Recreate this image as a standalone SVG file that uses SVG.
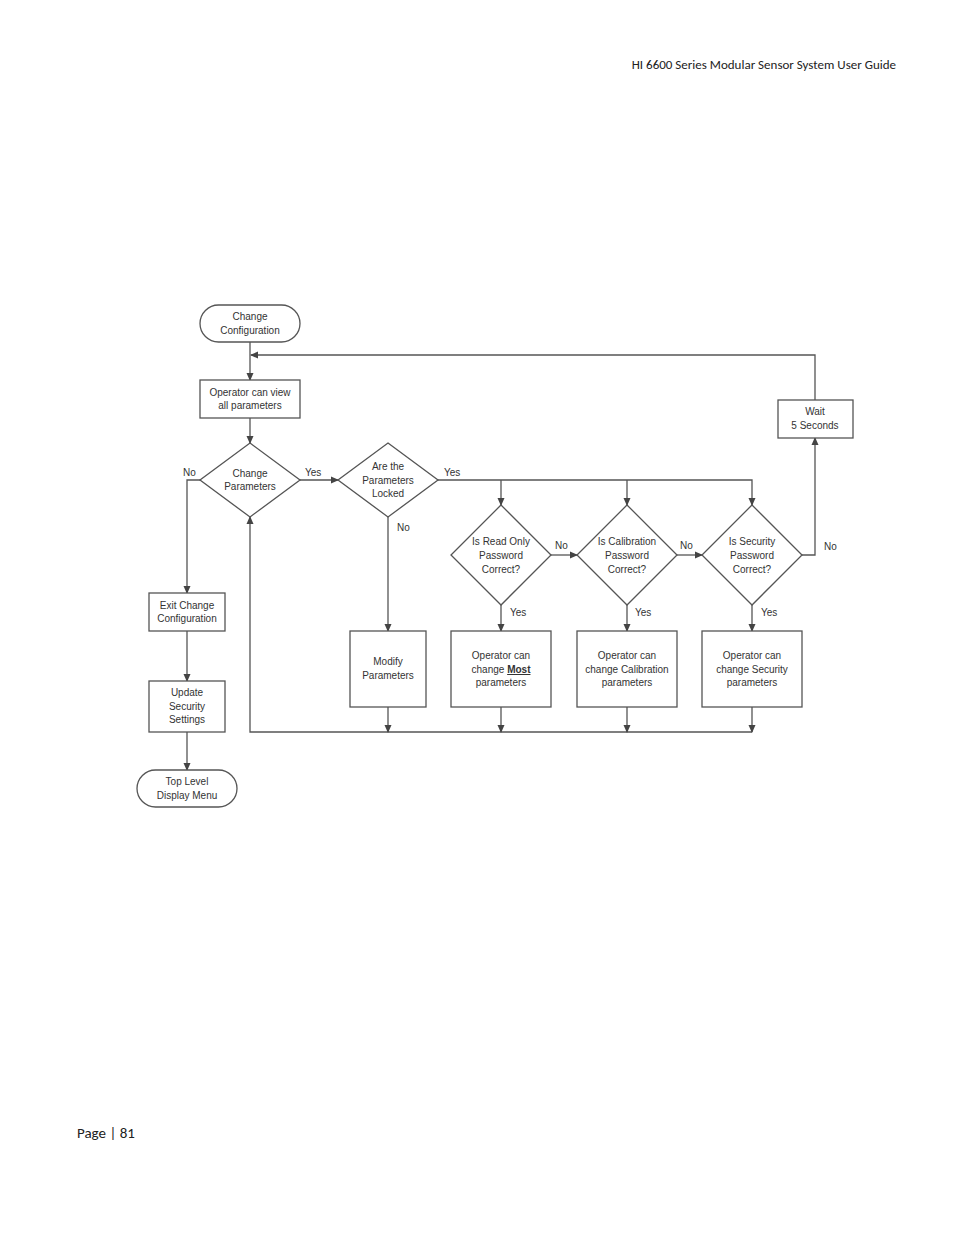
<svg xmlns="http://www.w3.org/2000/svg" width="954" height="1235" viewBox="0 0 954 1235">
<style>
.s{fill:#fff;stroke:#555;stroke-width:1.3}
.t{font-family:"Liberation Sans",Arial,sans-serif;font-size:10px;fill:#333;text-anchor:middle}
.l{font-family:"Liberation Sans",Arial,sans-serif;font-size:10px;fill:#333}
.c{fill:none;stroke:#555;stroke-width:1.3}
</style>
<defs><marker id="a" markerWidth="8" markerHeight="8" refX="7" refY="4" orient="auto" markerUnits="userSpaceOnUse"><path d="M0,0.5 L8,4 L0,7.5z" fill="#444"/></marker></defs>
<rect width="954" height="1235" fill="#fff"/>
<text x="896" y="69" font-family="Calibri,'Liberation Sans',sans-serif" font-size="13" text-anchor="end" fill="#222">HI 6600 Series Modular Sensor System User Guide</text>
<text x="77" y="1138" font-family="Calibri,'Liberation Sans',sans-serif" font-size="15" fill="#222">Page | 81</text>
<g id="connectors">
<path class="c" d="M250,342 V380" marker-end="url(#a)"/>
<path class="c" d="M815,400 V355 H251" marker-end="url(#a)"/>
<path class="c" d="M250,418 V443" marker-end="url(#a)"/>
<path class="c" d="M300,480 H338" marker-end="url(#a)"/>
<path class="c" d="M200,480 H187 V593" marker-end="url(#a)"/>
<path class="c" d="M187,631 V681" marker-end="url(#a)"/>
<path class="c" d="M187,732 V770" marker-end="url(#a)"/>
<path class="c" d="M388,517 V631" marker-end="url(#a)"/>
<path class="c" d="M438,480 H752 V505" marker-end="url(#a)"/>
<path class="c" d="M501,480 V505" marker-end="url(#a)"/>
<path class="c" d="M627,480 V505" marker-end="url(#a)"/>
<path class="c" d="M551,555 H577" marker-end="url(#a)"/>
<path class="c" d="M677,555 H702" marker-end="url(#a)"/>
<path class="c" d="M802,555 H815 V438" marker-end="url(#a)"/>
<path class="c" d="M501,605 V631" marker-end="url(#a)"/>
<path class="c" d="M627,605 V631" marker-end="url(#a)"/>
<path class="c" d="M752,605 V631" marker-end="url(#a)"/>
<path class="c" d="M752,732 H250 V517" marker-end="url(#a)"/>
<path class="c" d="M388,707 V732" marker-end="url(#a)"/>
<path class="c" d="M501,707 V732" marker-end="url(#a)"/>
<path class="c" d="M627,707 V732" marker-end="url(#a)"/>
<path class="c" d="M752,707 V732" marker-end="url(#a)"/>
<text class="l" x="183" y="476">No</text>
<text class="l" x="305" y="476">Yes</text>
<text class="l" x="444" y="476">Yes</text>
<text class="l" x="397" y="531">No</text>
<text class="l" x="555" y="549">No</text>
<text class="l" x="680" y="549">No</text>
<text class="l" x="824" y="550">No</text>
<text class="l" x="510" y="616">Yes</text>
<text class="l" x="635" y="616">Yes</text>
<text class="l" x="761" y="616">Yes</text>
</g>
<g id="start"><rect class="s" x="200" y="305" width="100" height="37" rx="18.5"/><text class="t" x="250" y="320">Change</text><text class="t" x="250" y="334">Configuration</text></g>
<g id="view"><rect class="s" x="200" y="380" width="100" height="38"/><text class="t" x="250" y="396">Operator can view</text><text class="t" x="250" y="409">all parameters</text></g>
<g id="changeParams"><path class="s" d="M250,443 L300,480 L250,517 L200,480z"/><text class="t" x="250" y="477">Change</text><text class="t" x="250" y="490">Parameters</text></g>
<g id="locked"><path class="s" d="M388,443 L438,480 L388,517 L338,480z"/><text class="t" x="388" y="470">Are the</text><text class="t" x="388" y="484">Parameters</text><text class="t" x="388" y="497">Locked</text></g>
<g id="readOnly"><path class="s" d="M501,505 L551,555 L501,605 L451,555z"/><text class="t" x="501" y="545">Is Read Only</text><text class="t" x="501" y="559">Password</text><text class="t" x="501" y="573">Correct?</text></g>
<g id="calib"><path class="s" d="M627,505 L677,555 L627,605 L577,555z"/><text class="t" x="627" y="545">Is Calibration</text><text class="t" x="627" y="559">Password</text><text class="t" x="627" y="573">Correct?</text></g>
<g id="security"><path class="s" d="M752,505 L802,555 L752,605 L702,555z"/><text class="t" x="752" y="545">Is Security</text><text class="t" x="752" y="559">Password</text><text class="t" x="752" y="573">Correct?</text></g>
<g id="wait"><rect class="s" x="778" y="400" width="75" height="38"/><text class="t" x="815" y="415">Wait</text><text class="t" x="815" y="429">5 Seconds</text></g>
<g id="modify"><rect class="s" x="350" y="631" width="76" height="76"/><text class="t" x="388" y="665">Modify</text><text class="t" x="388" y="679">Parameters</text></g>
<g id="most"><rect class="s" x="451" y="631" width="100" height="76"/><text class="t" x="501" y="659">Operator can</text><text class="t" x="501" y="673">change <tspan text-decoration="underline" font-weight="bold">Most</tspan></text><text class="t" x="501" y="686">parameters</text></g>
<g id="calParams"><rect class="s" x="577" y="631" width="100" height="76"/><text class="t" x="627" y="659">Operator can</text><text class="t" x="627" y="673">change Calibration</text><text class="t" x="627" y="686">parameters</text></g>
<g id="secParams"><rect class="s" x="702" y="631" width="100" height="76"/><text class="t" x="752" y="659">Operator can</text><text class="t" x="752" y="673">change Security</text><text class="t" x="752" y="686">parameters</text></g>
<g id="exit"><rect class="s" x="149" y="593" width="76" height="38"/><text class="t" x="187" y="609">Exit Change</text><text class="t" x="187" y="622">Configuration</text></g>
<g id="update"><rect class="s" x="149" y="681" width="76" height="51"/><text class="t" x="187" y="696">Update</text><text class="t" x="187" y="710">Security</text><text class="t" x="187" y="723">Settings</text></g>
<g id="top"><rect class="s" x="137" y="770" width="100" height="37" rx="18.5"/><text class="t" x="187" y="785">Top Level</text><text class="t" x="187" y="799">Display Menu</text></g>
</svg>
